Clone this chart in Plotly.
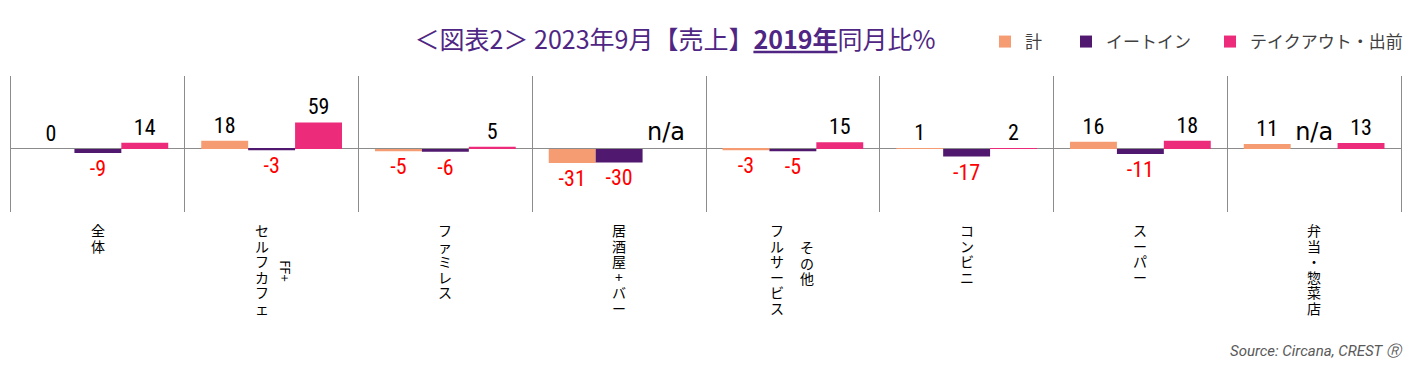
import plotly.graph_objects as go

# ---- data ----
categories = ["全体", "FF+セルフカフェ", "ファミレス", "居酒屋+バー",
              "その他フルサービス", "コンビニ", "スーパー", "弁当・惣菜店"]
label_main = ["全体", "セルフカフェ", "ファミレス", "居酒屋+バー",
              "フルサービス", "コンビニ", "スーパー", "弁当・惣菜店"]
label_sub = ["", "FF+", "", "", "その他", "", "", ""]
series_names = ["計", "イートイン", "テイクアウト・出前"]
total = [0, 18, -5, -31, -3, 1, 16, 11]
eat_in = [-9, -3, -6, -30, -5, -17, -11, None]
takeout = [14, 59, 5, None, 15, 2, 18, 13]
series_values = [total, eat_in, takeout]
colors = ["#F59C72", "#50186F", "#EC2B7A"]

title_text = "＜図表2＞ 2023年9月【売上】<b><u>2019年</u></b>同月比%"
source_text = "Source: Circana, CREST Ⓡ"

NUM_FONT = "Liberation Sans Narrow, Roboto Condensed, Roboto, sans-serif"
NA_FONT = "DejaVu Sans, sans-serif"
JP_FONT = "Noto Sans CJK JP, sans-serif"

fig = go.Figure()
legend_ids = ["legend", "legend2", "legend3"]
for name, vals, col, lg in zip(series_names, series_values, colors, legend_ids):
    y = [v if v is not None else 0 for v in vals]
    text = [str(v) if v is not None else "n/a" for v in vals]
    tcol = ["#FF0000" if (v is not None and v < 0) else "#000000" for v in vals]
    tsize = [22 if v is not None else 24 for v in vals]
    tfam = [NUM_FONT if v is not None else NA_FONT for v in vals]
    fig.add_trace(go.Bar(
        x=categories, y=y, name=name, marker=dict(color=col, line=dict(width=0)),
        text=text, textposition="outside", textangle=0, constraintext="none",
        cliponaxis=False,
        textfont=dict(color=tcol, size=tsize, family=tfam),
        legend=lg,
    ))

annotations = []
LINE = 15.6
for cat, main, sub in zip(categories, label_main, label_sub):
    stacked = "<br>".join("<span style='font-size:14px'>%s</span>" % ch for ch in main)
    main_h = len(main) * LINE
    annotations.append(dict(
        x=cat, xref="x", y=0, yref="paper", yshift=-6, yanchor="top",
        xanchor="center", xshift=(0 if not sub else (-10 if sub == "FF+" else -16)),
        text=stacked, showarrow=False, font=dict(family=JP_FONT, size=12, color="#000000"),
    ))
    if sub:
        if sub == "FF+":
            annotations.append(dict(
                x=cat, xref="x", y=0, yref="paper", yshift=-(13 + main_h / 2) + 1,
                yanchor="middle", xanchor="center", xshift=14, textangle=90,
                text=sub, showarrow=False,
                font=dict(family=JP_FONT, size=13, color="#000000"),
            ))
        else:
            sub_stacked = "<br>".join("<span style='font-size:14px'>%s</span>" % ch for ch in sub)
            annotations.append(dict(
                x=cat, xref="x", y=0, yref="paper", yshift=-(13 + main_h / 2) + 9,
                yanchor="middle", xanchor="center", xshift=14,
                text=sub_stacked, showarrow=False,
                font=dict(family=JP_FONT, size=12, color="#000000"),
            ))

annotations.append(dict(
    x=1, xref="paper", xanchor="right", xshift=4,
    y=0, yref="paper", yshift=-139, yanchor="middle",
    text=source_text, showarrow=False,
    font=dict(family="Roboto, sans-serif", size=15, color="#595959", style="italic"),
))

gray = "#8C8C8C"
legend_common = dict(orientation="h", xref="container", yref="container",
                     y=1 - 42 / 376, yanchor="middle", xanchor="left",
                     bgcolor="rgba(0,0,0,0)", borderwidth=0,
                     font=dict(family=JP_FONT, size=17, color="#404040"))

fig.update_layout(
    width=1424, height=376, autosize=False,
    margin=dict(l=11, r=23, t=76, b=164, pad=0),
    paper_bgcolor="white", plot_bgcolor="white",
    barmode="group", bargap=0.19, bargroupgap=0,
    title=dict(text=title_text, xref="container", x=675 / 1424, xanchor="center",
               yref="container", y=1 - 40 / 376, yanchor="middle",
               font=dict(family=JP_FONT, size=25, color="#4F2683")),
    xaxis=dict(type="category", range=[-0.5, 7.5], showgrid=True, tickson="boundaries",
               gridcolor=gray, gridwidth=1, showticklabels=False, ticks="",
               zeroline=False, showline=False, fixedrange=True),
    yaxis=dict(range=[-140, 162], showgrid=False, zeroline=True, zerolinecolor=gray,
               zerolinewidth=1, showticklabels=False, ticks="", showline=True,
               mirror=True, linecolor=gray, linewidth=1, fixedrange=True),
    legend=dict(**legend_common, x=985 / 1424),
    legend2=dict(**legend_common, x=1066 / 1424),
    legend3=dict(**legend_common, x=1210 / 1424),
    annotations=annotations,
    showlegend=True,
)

fig.write_html(
    "out.html",
    config={"displayModeBar": False},
    post_script="document.body.style.margin='0';document.body.style.padding='0';"
                "document.documentElement.style.overflow='hidden';",
)
